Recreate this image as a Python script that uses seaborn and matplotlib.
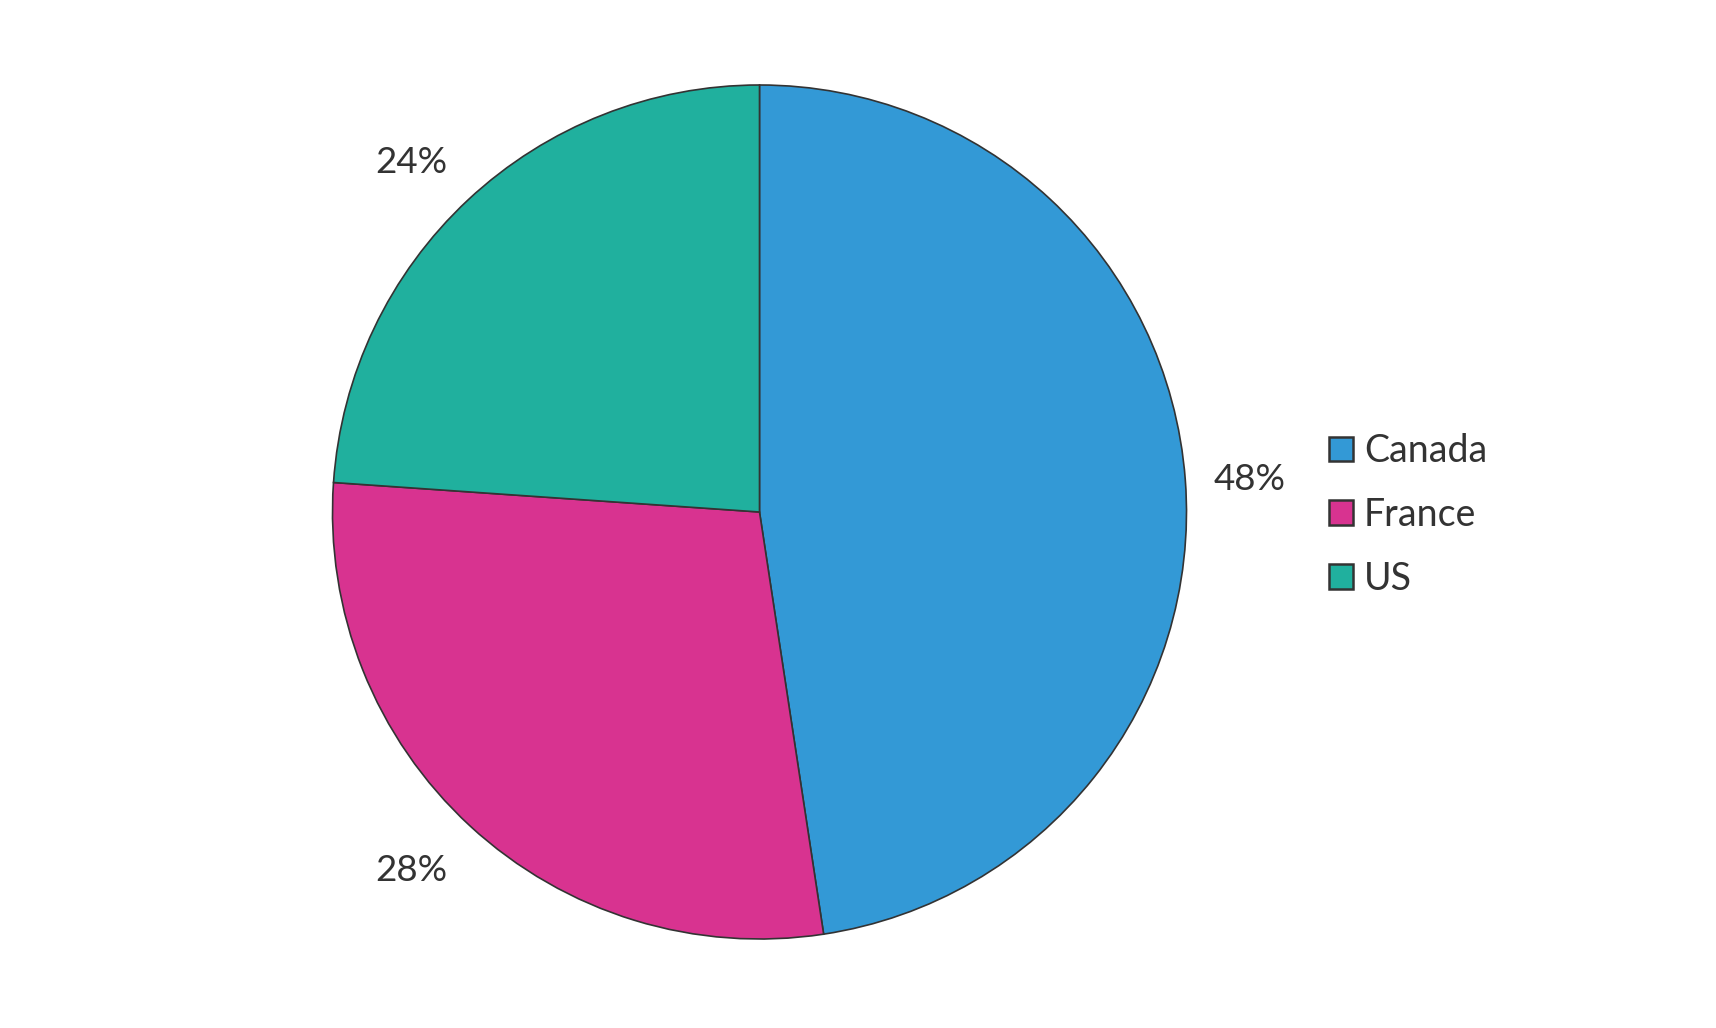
import matplotlib
matplotlib.use("Agg")
import matplotlib.pyplot as plt
import seaborn as sns

categories = ["Canada", "France", "US"]
values = [47.6, 28.5, 23.9]
colors = ["#3399D6", "#D83390", "#20B09E"]

sns.set_theme(style="white")
plt.rcParams['font.family'] = ['Lato', 'DejaVu Sans']
text_color = "#333333"

W, H = 1716, 1028
fig = plt.figure(figsize=(W / 100, H / 100), dpi=100)
cx, cy, r = 759.5, 512, 427
ax = fig.add_axes([(cx - r) / W, (H - cy - r) / H, 2 * r / W, 2 * r / H])

wedges, texts, autotexts = ax.pie(
    values, colors=colors, startangle=90, counterclock=False,
    autopct=lambda p: f"{p:.0f}%", pctdistance=1.15,
    wedgeprops=dict(edgecolor="#333333", linewidth=1.2),
    textprops=dict(color=text_color, fontsize=26.5),
)
# nudge labels slightly to match the reference placement
for t in autotexts:
    x, y = t.get_position()
    if x < 0 and y > 0:
        t.set_position((x - 0.03, y - 0.022))
    elif x < 0:
        t.set_position((x - 0.035, y + 0.006))
    else:
        t.set_position((x, y - 0.01))
ax.set_xlim(-1, 1)
ax.set_ylim(-1, 1)
ax.set_aspect("equal")

leg = fig.legend(
    wedges, categories, loc="center left",
    bbox_to_anchor=(1328.5 / W, (H - 515) / H),
    frameon=False, fontsize=27, labelcolor=text_color,
    handlelength=0.64, handleheight=0.64, handletextpad=0.3,
    labelspacing=0.74, borderaxespad=0, borderpad=0,
)
for h in leg.legend_handles:
    h.set_edgecolor("#333333")
    h.set_linewidth(1.8)

fig.savefig("out.png", dpi=100, facecolor="white")
